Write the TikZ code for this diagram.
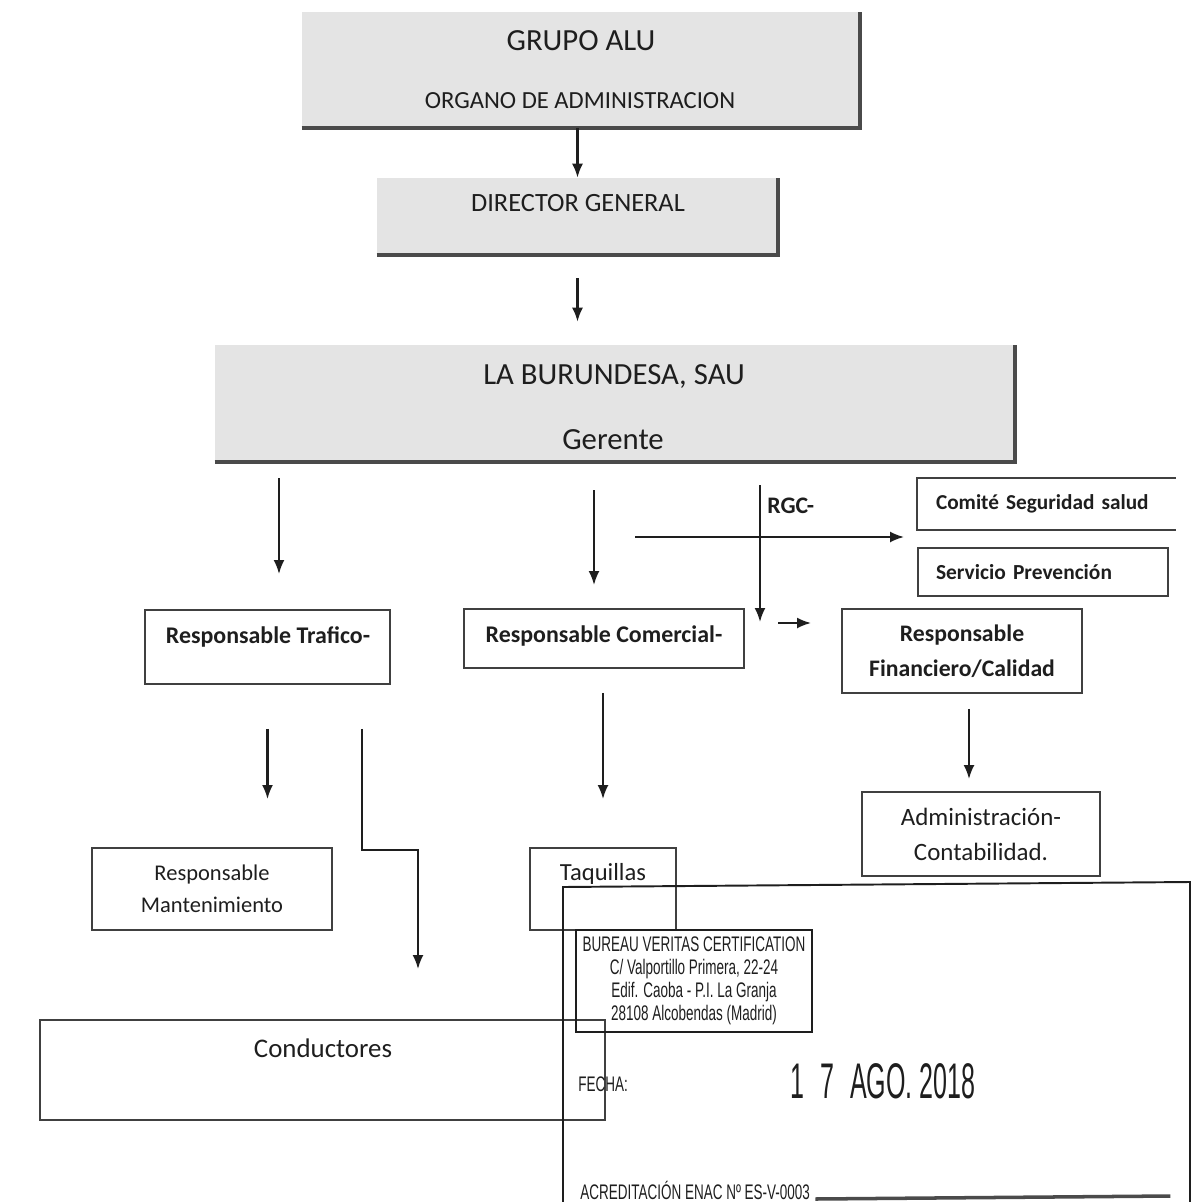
\documentclass[tikz,border=0pt]{standalone}
\usepackage{fontspec}
\setmainfont{Carlito}
\newfontfamily\sellofont[FakeStretch=0.64]{Liberation Sans}
\newfontfamily\fechafont[FakeStretch=0.5]{Liberation Sans}
\usepackage{tikz}
\usetikzlibrary{arrows.meta, positioning}

\definecolor{gristit}{HTML}{E4E4E4}
\definecolor{sombra}{HTML}{4A4A4A}
\definecolor{tinta}{HTML}{1E1E1E}

\begin{document}
\begin{tikzpicture}[x=0.02cm, y=-0.02cm,
  >={Latex[length=0.28cm,width=0.22cm]},
  %
  titulo/.style={rectangle, fill=gristit, inner sep=0pt},
  %
  caja/.style={rectangle, draw=tinta!85, line width=1.1pt, inner sep=0pt,
    align=center, text=tinta},
  %
  texto/.style={inner sep=0pt, text=tinta, anchor=base},
  %
  flecha/.style={->, line width=1.2pt, draw=tinta},
  %
  sombreado/.style={line width=2.2pt, draw=sombra},
  %
  sello/.style={draw=tinta, line width=1.1pt, inner sep=0pt, align=center,
    text=tinta, font=\sellofont\fontsize{12}{13}\selectfont}
  ]

  \useasboundingbox (0,0) rectangle (1192,1202);

  \begin{scope}
    %%%%%%%%%%%%%%%%%%%%%%%%%%%%%%%
    \node [titulo, minimum width=11.16cm, minimum height=2.32cm] (grupo) at (581,70) {};
    \node [texto, font=\fontsize{17.5}{20}\selectfont] (grupotit) at (581,51) {GRUPO ALU};
    \node [texto, font=\fontsize{14}{16}\selectfont] (grupoorg) at (580,109) {ORGANO DE ADMINISTRACION};
    %%%%%%%%%%%%%%%%%%%%%%%%%%%%%%%
    \node [titulo, minimum width=8.02cm, minimum height=1.54cm] (director) at (577.5,216.5) {};
    \node [texto, font=\fontsize{15}{17}\selectfont] (directortxt) at (578,212) {DIRECTOR GENERAL};
    %%%%%%%%%%%%%%%%%%%%%%%%%%%%%%%
    \node [titulo, minimum width=16cm, minimum height=2.34cm] (burundesa) at (615,403.5) {};
    \node [texto, font=\fontsize{17.5}{19}\selectfont] (burundesatit) at (614,384) {LA BURUNDESA, SAU};
    \node [texto, font=\fontsize{17.5}{21}\selectfont] (gerente) at (613,449) {Gerente};
    %%%%%%%%%%%%%%%%%%%%%%%%%%%%%%%
    \node [caja, minimum width=4.9cm, minimum height=1.48cm] (trafico) at (267.5,647) {};
    \node [texto, font=\bfseries\fontsize{13.6}{15}\selectfont] (traficotxt) at (268,643) {Responsable Trafico-};
    \node [caja, minimum width=5.6cm, minimum height=1.18cm] (comercial) at (604,638.5) {};
    \node [texto, font=\bfseries\fontsize{13.6}{15}\selectfont] (comercialtxt) at (604,642) {Responsable Comercial-};
    \node [caja, draw=none, minimum width=5.14cm, minimum height=1cm, inner xsep=0.36cm,
      text width=4.42cm, align=left, font=\bfseries\fontsize{12.1}{13}\selectfont] (comite) at (1046.5,504) {Comité Seguridad salud};
    \node [caja, minimum width=5cm, minimum height=0.96cm, inner xsep=0.36cm,
      text width=4.28cm, align=left, font=\bfseries\fontsize{12.2}{13}\selectfont] (servicio) at (1043,572) {Servicio Prevención};
    \node [caja, minimum width=4.8cm, minimum height=1.68cm,
      font=\bfseries\fontsize{13.5}{20}\selectfont] (financiero) at (962,651) {Responsable\\Financiero/Calidad};
    %%%%%%%%%%%%%%%%%%%%%%%%%%%%%%%
    \node [caja, minimum width=4.8cm, minimum height=1.64cm,
      font=\fontsize{12.8}{18}\selectfont] (mantenimiento) at (212,889) {Responsable\\Mantenimiento};
    \node [caja, minimum width=2.92cm, minimum height=1.64cm] (taquillas) at (603,889) {};
    \node [texto, font=\fontsize{14}{16}\selectfont] (taquillastxt) at (603,880) {Taquillas};
    \node [caja, minimum width=4.76cm, minimum height=1.68cm,
      font=\fontsize{14.2}{20}\selectfont] (admin) at (981,834) {Administración-\\Contabilidad.};
    \node [caja, minimum width=11.3cm, minimum height=2cm] (conductores) at (322.5,1070) {};
    \node [texto, font=\fontsize{15.3}{17}\selectfont] (conductorestxt) at (323,1057) {Conductores};
  \end{scope}

  \begin{scope}
    \foreach \n in {grupo, director, burundesa}
      \draw [sombreado] (\n.south west) -- (\n.south east) -- (\n.north east);
    \draw [caja] (comite.north east) -- (comite.north west) -- (comite.south west) -- (comite.south east);

    \coordinate (trafin) at ([xshift=0.23cm]trafico.north);
    \coordinate (comfin) at ([xshift=-0.2cm]comercial.north);
    \coordinate (rgcfin) at (760,622);
    \coordinate (sgsini) at (635,537);
    \coordinate (finini) at (778,623);
    \coordinate (codoini) at ([xshift=1.89cm]trafico.south);
    \coordinate (codo) at (418,850);
    \coordinate (admfin) at ([xshift=-0.24cm]admin.north);

    \draw [flecha] (grupo.south -| director.north) -- (director.north);
    \draw [flecha, shorten <=0.46cm, shorten >=0.46cm] (director.south) -- (director.south |- burundesa.north);
    \draw [flecha, shorten <=0.32cm, shorten >=0.7cm] (trafin |- burundesa.south) -- (trafin);
    \draw [flecha, shorten <=0.56cm, shorten >=0.46cm] (comfin |- burundesa.south) -- (comfin);
    \draw [flecha, shorten <=0.46cm] (rgcfin |- burundesa.south) -- (rgcfin);
    \node [texto, anchor=base west, font=\bfseries\fontsize{13.5}{15}\selectfont] (rgc) at (767,513) {RGC-};
    \draw [flecha, shorten >=0.26cm] (sgsini) -- (sgsini -| comite.west);
    \draw [flecha, shorten >=0.6cm] (finini) -- (finini -| financiero.west);
    \draw [flecha, shorten <=0.88cm, shorten >=0.96cm] (trafico.south) -- (trafico.south |- mantenimiento.north);
    \draw [flecha, shorten <=0.88cm, shorten >=1cm] (codoini) |- (codo) -- (codo |- conductores.north);
    \draw [flecha, shorten <=0.48cm, shorten >=0.96cm] (comercial.south -| taquillas.north) -- (taquillas.north);
    \draw [flecha, shorten <=0.3cm, shorten >=0.24cm] (admfin |- financiero.south) -- (admfin);
  \end{scope}

  % sello de certificacion
  \begin{scope}
    \draw [line width=1.1pt, draw=tinta] (563,1202) -- (563,887) -- (1190,882) -- (1190,1202);
    \node [sello, minimum width=4.72cm, minimum height=2.04cm] (sellocaja) at (694,981)
      {BUREAU VERITAS CERTIFICATION\\C/ Valportillo Primera, 22-24\\Edif. Caoba - P.I. La Granja\\28108 Alcobendas (Madrid)};
    \node [texto, anchor=base west, font=\sellofont\fontsize{12}{14}\selectfont] (fecha) at (578,1091) {FECHA:};
    \node [texto, anchor=base west, font=\fechafont\fontsize{28.5}{32}\selectfont] (fechadia) at (790,1098) {1\,\,7 \,AGO. 2018};
    \node [texto, anchor=base west, font=\sellofont\fontsize{12}{14}\selectfont] (acred) at (580,1199) {ACREDITACIÓN ENAC Nº ES-V-0003};
    \draw [line width=2pt, draw=tinta!80] ([xshift=0.1cm]acred.base east) -- ++(355,-3);
  \end{scope}

\end{tikzpicture}
\end{document}
